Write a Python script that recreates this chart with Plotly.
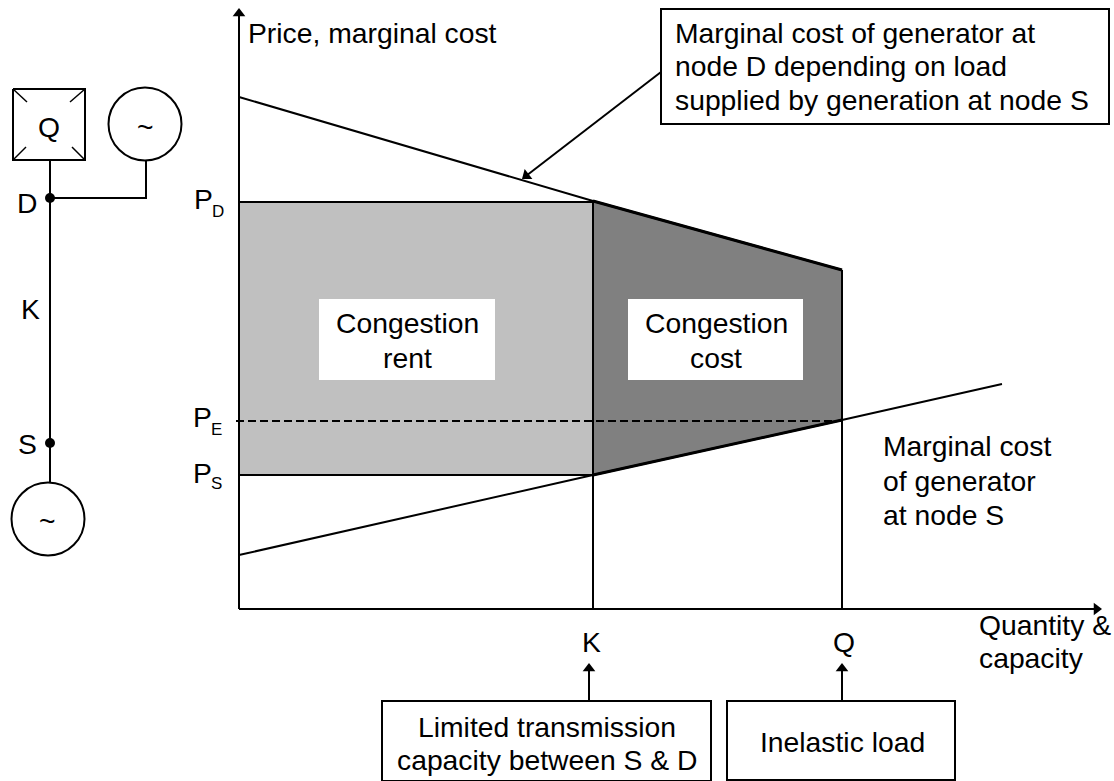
import math
import plotly.graph_objects as go

W, H = 1114, 781

# Economic curves (x = quantity position, y = price position, on the page-sized axes)
demand_x = [239, 593, 842]
demand_y = [97, 201, 270]
supply_x = [239, 593, 842, 1002]
supply_y = [555, 475, 420, 384]
origin = (239, 609)
k_x = 593
q_x = 842
p_d = 202
p_e = 421
p_s = 475

rent_x = [239, 593, 593, 239]
rent_y = [p_d, p_d, p_s, p_s]
cost_x = [593, 842, 842, 593]
cost_y = [201, 270, 420, 475]

# Network schematic
bus_x = [50, 50]
bus_y = [160, 482]
branch_x = [50, 146, 146]
branch_y = [198, 198, 161]
nodes_x = [50, 50]
nodes_y = [198, 443]
gens_x = [145, 48]
gens_y = [124, 519]
square_x = [13, 85, 85, 13, 13]
square_y = [89, 89, 160, 160, 89]
corner_segments = [
    ((13, 89), (27, 102)), ((85, 89), (70, 102)),
    ((13, 160), (26, 147)), ((85, 160), (72, 147)),
]

# Boxes: (left, top, right, bottom)
text_boxes = [(319, 299, 495, 380), (628, 299, 803, 380)]
outline_boxes = [(661, 9, 1109, 124), (382, 701, 711, 781), (727, 701, 955, 780)]

# Arrows: (from x, from y, tip x, tip y)
arrows = [
    (239, 609, 239, 8),
    (239, 609, 1102, 609),
    (589, 701, 589, 663),
    (842, 701, 842, 663),
    (661, 72, 522, 179),
]

# Text: (x, y, text), centred
center_labels = [
    (27, 203, "D"),
    (30, 309, "K"),
    (27, 444, "S"),
    (49, 127, "Q"),
    (145, 127, "~"),
    (47, 521, "~"),
    (407, 323, "Congestion"),
    (407, 358, "rent"),
    (716, 323, "Congestion"),
    (716, 358, "cost"),
    (591, 642, "K"),
    (844, 642, "Q"),
    (547, 727, "Limited transmission"),
    (547, 760, "capacity between S & D"),
    (842, 742, "Inelastic load"),
]
# Text: (left x, y, text)
left_labels = [
    (247, 33, "Price, marginal cost"),
    (674, 33, "Marginal cost of generator at"),
    (674, 66, "node D depending on load"),
    (674, 100, "supplied by generation at node S"),
    (882, 446, "Marginal cost"),
    (882, 481, "of generator"),
    (882, 515, "at node S"),
    (978, 625, "Quantity &"),
    (978, 658, "capacity"),
    (193, 199, "P"),
    (192, 417, "P"),
    (192, 473, "P"),
]
# Subscripts: (left x, y, text)
sub_labels = [
    (211, 211, "D"),
    (210, 429, "E"),
    (210, 483, "S"),
]

INK = "#000000"
FONT = "Liberation Sans"
fig = go.Figure()


def line(xs, ys, width=2, dash=None, color=INK, fill=None, fillcolor=None):
    fig.add_trace(go.Scatter(
        x=xs, y=ys, mode="lines", fill=fill, fillcolor=fillcolor,
        line=dict(color=color, width=width, dash=dash), hoverinfo="skip",
    ))


# Filled regions
line(rent_x, rent_y, width=0, fill="toself", fillcolor="#c0c0c0", color="#c0c0c0")
line(cost_x, cost_y, width=0, fill="toself", fillcolor="#808080", color="#808080")

# Curves and guides
line(demand_x, demand_y)
line(supply_x, supply_y)
line(demand_x[1:], demand_y[1:], width=3)
line(supply_x[1:3], supply_y[1:3], width=3)
line([origin[0], k_x], [p_d, p_d])
line([origin[0], k_x], [p_s, p_s])
line([k_x, k_x], [201, origin[1]])
line([q_x, q_x], [270, origin[1]])
line([236, q_x], [p_e, p_e], dash="8px,4px")

# Schematic
line(bus_x, bus_y)
line(branch_x, branch_y)
line(square_x, square_y)
for (a, b) in corner_segments:
    line([a[0], b[0]], [a[1], b[1]], width=1.5)
fig.add_trace(go.Scatter(
    x=gens_x, y=gens_y, mode="markers", hoverinfo="skip",
    marker=dict(size=73, color="white", line=dict(color=INK, width=2)),
))
fig.add_trace(go.Scatter(
    x=nodes_x, y=nodes_y, mode="markers", hoverinfo="skip",
    marker=dict(size=10, color=INK),
))

# Arrows: a stem with a rotated triangle at the tip
for (x0, y0, x1, y1) in arrows:
    dx, dy = x1 - x0, y1 - y0
    length = math.hypot(dx, dy)
    ux, uy = dx / length, dy / length
    line([x0, x1 - ux * 5], [y0, y1 - uy * 5])
    fig.add_trace(go.Scatter(
        x=[x1 - ux * 5.5], y=[y1 - uy * 5.5], mode="markers", hoverinfo="skip",
        marker=dict(symbol="triangle-up", size=11, color=INK,
                    angle=math.degrees(math.atan2(dx, -dy))),
    ))

shapes = []
for (l, t, r, b) in text_boxes:
    shapes.append(dict(type="rect", x0=l, x1=r, y0=t, y1=b, xref="x", yref="y",
                       fillcolor="white", line=dict(width=0), layer="above"))
for (l, t, r, b) in outline_boxes:
    shapes.append(dict(type="rect", x0=l, x1=r, y0=t, y1=b, xref="x", yref="y",
                       fillcolor="white", line=dict(color=INK, width=2), layer="above"))

annotations = []


def text(x, y, t, anchor, size=28.3):
    annotations.append(dict(
        x=x, y=y, xref="x", yref="y", text=t, showarrow=False, borderpad=0,
        xanchor=anchor, yanchor="middle",
        font=dict(family=FONT, size=size, color=INK),
    ))


for (x, y, t) in center_labels:
    text(x, y, t, "center")
for (x, y, t) in left_labels:
    text(x, y, t, "left")
for (x, y, t) in sub_labels:
    text(x, y, t, "left", size=17)

fig.update_layout(
    width=W, height=H, margin=dict(l=0, r=0, t=0, b=0),
    paper_bgcolor="white", plot_bgcolor="white", showlegend=False,
    xaxis=dict(range=[0, W], visible=False, fixedrange=True),
    yaxis=dict(range=[H, 0], visible=False, fixedrange=True),
    shapes=shapes, annotations=annotations,
)
fig.write_html("out.html", config=dict(displayModeBar=False),
               post_script="document.body.style.margin='0';")
